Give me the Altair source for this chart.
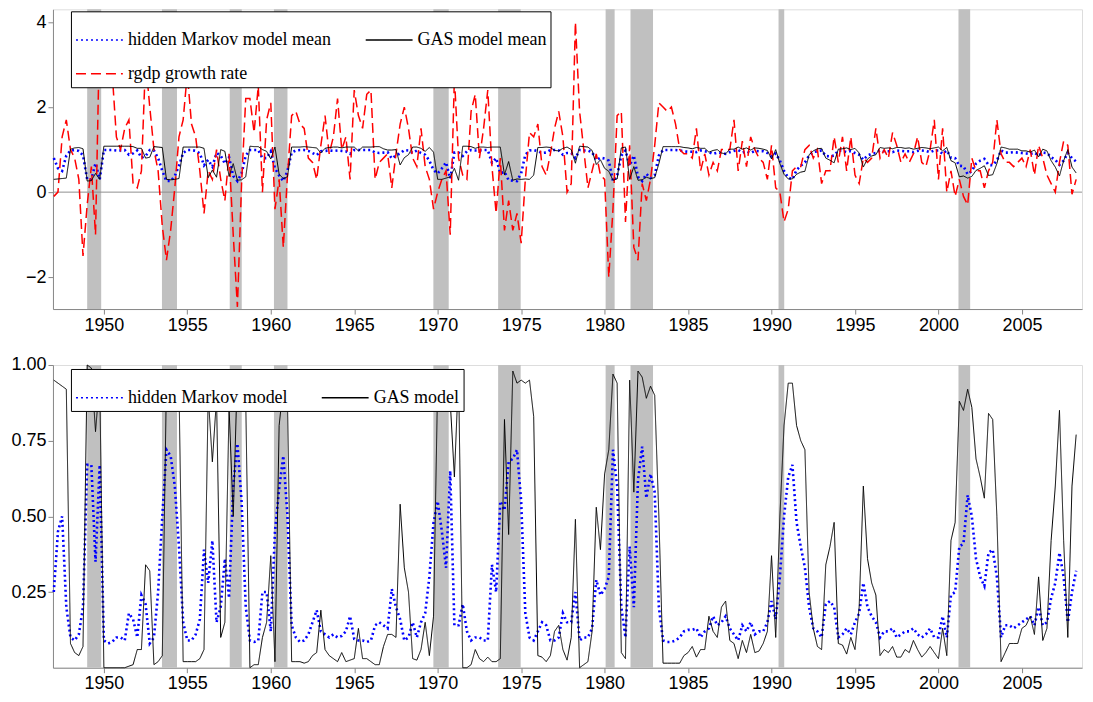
import numpy as np
import pandas as pd
import altair as alt

# quarterly, 1947Q1 .. 2008Q2
growth = [
    -0.1, 0.0, 1.3, 1.7,  1.0, 0.8, 0.3, -1.5,  -0.3, 0.6, -1.0, 3.9,  3.1, 4.0, 2.8, 1.3,
    1.0, 1.5, 1.7, 0.2,  0.1, 0.5, 3.1, 2.0,  1.0, 0.5, -0.8, -1.6,  -0.9, 0.1, 1.3, 1.7,
    2.8, 1.6, 1.3, 0.5,  -0.5, 0.5, 0.3, 1.0,  0.3, -0.2, 0.9, -1.0,  -2.7, 0.2, 2.2, 2.2,
    1.4, 2.5, 0.0, 1.7,  2.1, -0.4, 0.3, -1.3,  0.4, 1.8, 1.9, 1.6,  1.5, 0.8, 0.7, 0.3,
    1.1, 1.8, 0.9, 1.3,  2.2, 1.0, 1.3, 0.3,  2.4, 1.8, 1.5, 2.3,  2.4, 0.3, 0.7, 0.8,
    0.9, 0.1, 0.9, 1.6,  2.0, 1.5, 0.8, 0.6,  1.5, 0.6, 0.3, -0.4,  0.0, 0.3, 0.5, -1.0,
    2.7, 0.8, 0.4, 0.3,  1.9, 2.3, 0.8, 1.5,  2.4, 0.6, -0.5, 0.8,  -0.9, -0.2, -0.9, -0.5,
    -1.2, 0.3, 1.4, 1.3,  1.6, 0.6, 0.4, 0.9,  1.5, 1.9, 1.3, 0.0,  0.2, 4.0, 1.9, 1.0,
    0.1, 0.5, 0.9, 0.4,  0.3, -2.0, -0.4, 1.8,  1.9, -0.7, 1.1, -1.3,  -1.6, 0.2, -0.2, 0.3,
    1.1, 2.1, 2.0, 1.9,  2.0, 1.6, 1.0, 0.9,  0.9, 0.8, 1.5, 0.5,  0.9, 0.4, 0.7, 0.5,
    1.0, 1.0, 1.0, 1.7,  0.5, 1.2, 0.6, 1.3,  1.0, 0.8, 0.7, 0.3,  1.1, 0.1, 0.0, -0.7,
    -0.4, 0.5, 0.6, 0.6,  1.0, 1.1, 0.8, 1.0,  0.2, 0.5, 0.5, 1.3,  0.7, 1.3, 0.5, 1.3,
    0.4, 0.2, 0.8, 0.7,  0.8, 1.5, 0.8, 1.0,  0.8, 1.4, 1.1, 0.7,  0.9, 0.7, 0.9, 1.3,
    0.7, 0.6, 1.0, 1.7,  0.3, 1.5, 0.0, 0.5,  -0.1, 0.3, -0.1, -0.3,  0.8, 0.5, 0.5, 0.1,
    0.5, 0.7, 1.7, 0.9,  0.7, 0.7, 0.6, 0.7,  0.8, 0.6, 1.0, 0.4,  1.1, 0.8, 0.4, 0.2,
    0.0, 0.7, 1.2, 1.1,  -0.05, 0.3,
]

gas_mean = [
    .30, .31, .32, .33,  1.01, 1.04, 1.05, 1.02,  .26, .27, .44, .30,  1.08, 1.08, 1.08, 1.08,
    1.08, 1.08, 1.08, 1.07,  1.03, 1.03, .80, .82,  1.07, 1.06, 1.05, .30,  .29, .30, .32, 1.06,
    1.06, 1.06, 1.06, 1.06,  1.03, .34, .52, .35,  1.0, .96, .37, .67,  .28, .29, .36, 1.08,
    1.07, 1.07, 1.0, .96,  .78, 1.06, .42, .32,  .36, 1.06, 1.06, 1.06,  1.07, 1.06, 1.05, 1.04,
    .92, 1.03, 1.05, 1.06,  1.06, 1.04, 1.06, 1.06,  1.06, .97, 1.06, 1.06,  1.06, 1.07, 1.07, 1.02,
    .99, .99, 1.0, .64,  .81, .88, 1.06, 1.06,  1.03, .96, 1.05, .94,  .30, .30, .33, .36,
    .56, .28, 1.08, 1.08,  1.07, 1.03, 1.06, 1.06,  1.05, 1.06, 1.06, 1.06,  .41, .72, .28, .31,
    .30, .31, .30, .40,  1.05, 1.05, 1.06, 1.05,  .98, .97, 1.03, 1.06,  1.0, .68, 1.08, 1.07,
    1.06, .98, .65, .76,  .56, .49, .28, .31,  1.04, 1.06, .30, .60,  .28, .29, .35, .32,
    .34, .67, 1.07, 1.07,  1.07, 1.07, 1.07, 1.05,  1.04, 1.02, 1.05, 1.03,  1.03, .94, .98, 1.0,
    .92, .90, 1.01, 1.01,  1.06, 1.01, 1.04, .99,  1.04, 1.03, 1.01, .98,  .78, 1.0, .67, .42,
    .31, .31, .42, .47,  .49, .88, .97, 1.02,  1.03, .80, .75, .69,  1.01, 1.02, 1.04, 1.0,
    1.03, .92, .59, .78,  .85, .88, 1.05, 1.03,  1.04, 1.02, 1.05, 1.05,  1.03, 1.04, 1.01, 1.03,
    1.05, 1.04, 1.02, 1.04,  1.06, .97, 1.05, .74,  .69, .36, .38, .33,  .37, .51, .56, .62,
    .39, .41, .67, 1.06,  1.04, 1.01, 1.01, 1.01,  .97, .97, .94, .99,  .83, 1.01, .97, .74,
    .59, .38, .74, 1.0,  .59, .45,
]

hmm_mean = [
    .80, .56, .50, .86,  .98, .99, .97, .86,  .30, .30, .68, .30,  .99, .99, .99, .98,
    .98, .99, .88, .91,  .98, .81, .85, .99,  .98, .80, .50, .26,  .26, .38, .62, .92,
    .99, .99, .97, .91,  .63, .76, .60, .92,  .86, .67, .82, .38,  .26, .44, .86, .99,
    .99, .99, .80, .80,  .96, .56, .39, .26,  .50, .93, .98, .99,  .99, .97, .92, .87,
    .96, .97, .98, .97,  .98, .97, .96, .90,  .99, .99, .99, .99,  .99, .93, .92, .93,
    .94, .79, .86, .91,  .99, .98, .92, .98,  .92, .88, .74, .52,  .44, .56, .70, .32,
    .93, .93, .85, .96,  .99, .98, .98, .99,  .99, .69, .80, .44,  .48, .28, .27, .26,
    .44, .88, .98, .99,  .96, .92, .93, .99,  .99, .98, .88, .92,  .92, .80, .99, .98,
    .98, .94, .75, .81,  .79, .74, .26, .38,  .86, .98, .62, .86,  .36, .26, .43, .33,
    .40, .86, .99, .99,  .99, .99, .98, .96,  .95, .95, .94, .98,  .96, .94, .90, .93,
    .92, .90, .94, .97,  .99, .93, .96, .92,  .97, .96, .96, .92,  .84, .91, .74, .50,
    .34, .30, .52, .62,  .70, .86, .94, .96,  .98, .85, .84, .86,  .98, .97, .94, .97,
    .92, .88, .76, .86,  .90, .92, .98, .96,  .96, .94, .98, .97,  .96, .96, .94, .97,
    .98, .97, .94, .98,  .98, .90, .98, .81,  .80, .62, .61, .42,  .50, .67, .74, .78,
    .64, .63, .74, .98,  .93, .93, .94, .93,  .92, .91, .90, .93,  .86, .93, .92, .82,
    .76, .64, .74, .92,  .80, .72,
]

gas_prob = [
    .95, .94, .93, .92,  .08, .05, .04, .07,  1.0, .99, .78, .95,  0, 0, 0, 0,
    0, 0, .005, .01,  .06, .06, .34, .32,  .01, .02, .04, .95,  .96, .95, .93, .02,
    .02, .02, .02, .03,  .06, .9, .68, .89,  .1, .15, .86, .5,  .98, .96, .88, 0,
    .01, .01, .1, .15,  .37, .02, .8, .93,  .88, .02, .02, .02,  .015, .02, .04, .05,
    .19, .06, .04, .03,  .02, .05, .02, .025,  .03, .13, .03, .03,  .02, .01, .01, .07,
    .11, .11, .1, .54,  .33, .25, .03, .025,  .06, .15, .04, .17,  .95, .95, .92, .88,
    .63, .97, 0, 0,  .01, .06, .03, .02,  .035, .02, .02, .03,  .82, .44, .98, .94,
    .95, .94, .95, .83,  .04, .035, .02, .04,  .12, .14, .06, .025,  .1, .49, 0, .01,
    .02, .12, .53, .39,  .64, .72, .97, .94,  .05, .03, .95, .58,  .98, .96, .89, .93,
    .9, .5, .015, .015,  .015, .015, .015, .04,  .05, .07, .035, .06,  .06, .17, .12, .1,
    .2, .22, .09, .08,  .03, .09, .05, .11,  .05, .055, .08, .12,  .37, .1, .5, .8,
    .94, .94, .8, .75,  .72, .25, .13, .07,  .06, .34, .4, .48,  .08, .075, .045, .1,
    .06, .2, .6, .36,  .28, .24, .04, .06,  .05, .07, .035, .035,  .06, .05, .09, .06,
    .035, .05, .07, .05,  .03, .13, .04, .42,  .48, .88, .85, .92,  .86, .69, .63, .56,
    .84, .82, .5, .02,  .05, .08, .08, .08,  .13, .14, .17, .11,  .3, .09, .13, .42,
    .6, .85, .42, .1,  .6, .77,
]

hmm_prob = [
    .25, .45, .5, .2,  .1, .09, .11, .2,  .67, .67, .35, .67,  .09, .08, .085, .1,
    .1, .09, .18, .16,  .1, .24, .21, .08,  .1, .25, .5, .72,  .7, .6, .4, .15,
    .09, .09, .11, .16,  .39, .28, .42, .15,  .2, .36, .23, .6,  .74, .55, .2, .09,
    .085, .09, .25, .25,  .12, .45, .59, .7,  .5, .14, .1, .085,  .09, .11, .15, .19,
    .12, .11, .1, .11,  .1, .105, .12, .17,  .095, .09, .09, .085,  .09, .14, .15, .14,
    .13, .26, .2, .16,  .09, .1, .15, .1,  .15, .18, .3, .48,  .55, .45, .33, .65,
    .14, .14, .21, .12,  .09, .1, .1, .09,  .09, .34, .25, .55,  .52, .68, .69, .72,
    .55, .18, .1, .09,  .12, .15, .14, .09,  .09, .1, .18, .15,  .15, .25, .09, .1,
    .1, .13, .29, .24,  .26, .3, .72, .6,  .2, .1, .4, .2,  .62, .73, .56, .64,
    .58, .2, .09, .085,  .085, .09, .1, .12,  .125, .125, .13, .1,  .12, .13, .17, .14,
    .15, .17, .13, .11,  .09, .14, .12, .15,  .11, .12, .12, .15,  .22, .16, .3, .5,
    .63, .67, .48, .4,  .33, .2, .13, .12,  .1, .21, .22, .2,  .1, .11, .13, .11,
    .15, .18, .28, .2,  .17, .15, .1, .12,  .12, .13, .1, .11,  .12, .12, .13, .11,
    .1, .11, .13, .1,  .1, .17, .1, .24,  .25, .4, .41, .57,  .5, .36, .3, .27,
    .38, .39, .3, .1,  .14, .14, .13, .14,  .15, .16, .17, .14,  .2, .14, .15, .23,
    .28, .38, .3, .15,  .25, .32,
]

rec_start = [1949.0, 1953.48, 1957.54, 1960.19, 1969.74, 1973.62, 1980.06, 1981.55, 1990.42, 2001.2]
rec_end = [1949.84, 1954.38, 1958.26, 1961.0, 1970.66, 1974.97, 1980.6, 1982.9, 1990.76, 2001.9]

n = len(growth)
t = 1947.0 + 0.25 * np.arange(n)

# legend order is filled column by column, so this gives HMM | GAS on row one
names = ["hidden Markov model mean", "rgdp growth rate", "GAS model mean"]
top = pd.concat([
    pd.DataFrame({"t": t, "v": hmm_mean, "series": names[0]}),
    pd.DataFrame({"t": t, "v": growth, "series": names[1]}),
    pd.DataFrame({"t": t, "v": gas_mean, "series": names[2]}),
])
names2 = ["hidden Markov model", "GAS model"]
bot = pd.concat([
    pd.DataFrame({"t": t, "v": hmm_prob, "model": names2[0]}),
    pd.DataFrame({"t": t, "v": gas_prob, "model": names2[1]}),
])
rec = pd.DataFrame({"s": rec_start, "e": rec_end})

font = "Liberation Serif"
W = 1030
H1, H2 = 300, 303
xdom = [1946.95, 2008.6]
xaxis = alt.Axis(values=list(range(1950, 2010, 5)), format="d", title=None, grid=False,
                 labelFontSize=18, labelFlush=False)
xsc = alt.Scale(domain=xdom, nice=False, zero=False)


def bands(h):
    return alt.Chart(rec).mark_rect(color="#c0c0c0").encode(
        x=alt.X("s:Q", scale=xsc, axis=xaxis), x2="e:Q",
        y=alt.value(0), y2=alt.value(h))


def legend(y):
    return alt.Legend(title=None, orient="none", legendX=18, legendY=y, columns=2,
                      fillColor="white", strokeColor="black", padding=4, labelFontSize=18,
                      labelFont=font, symbolType="stroke", symbolSize=2200, symbolStrokeWidth=1.6,
                      columnPadding=30, rowPadding=0, labelLimit=400)


def lines(df, field, dom, colors, dashes, widths, yenc, leg):
    layers = []
    for name, w in zip(dom, widths):
        layers.append(
            alt.Chart(df).transform_filter(alt.datum[field] == name).mark_line(strokeWidth=w).encode(
                x=alt.X("t:Q", scale=xsc, axis=xaxis),
                y=yenc,
                color=alt.Color(f"{field}:N", scale=alt.Scale(domain=dom, range=colors), legend=leg),
                strokeDash=alt.StrokeDash(f"{field}:N", scale=alt.Scale(domain=dom, range=dashes), legend=leg),
                order=alt.Order("t:Q"),
            )
        )
    return layers


ysc = alt.Scale(domain=[-2.75, 4.3], nice=False, zero=False)
y1 = alt.Y("v:Q", scale=ysc, title=None,
           axis=alt.Axis(values=[-2, 0, 2, 4], labelFontSize=18, grid=False,
                         labelExpr="replace(datum.label, '-', '−')"))
zero = alt.Chart(pd.DataFrame({"y": [0]})).mark_rule(color="#909090", strokeWidth=1).encode(
    y=alt.Y("y:Q", scale=ysc))
l1 = lines(top, "series", names, ["#0000ff", "#ff0000", "black"], [[2, 3], [10, 5], [1, 0]],
           [2.6, 1.5, 1], y1, legend(2))
chart_top = alt.layer(bands(H1), zero, *l1).properties(width=W, height=H1)

ysc2 = alt.Scale(domain=[0, 1.0], nice=False)
y2 = alt.Y("v:Q", scale=ysc2, title=None,
           axis=alt.Axis(values=[0.25, 0.5, 0.75, 1.0], format=".2f", labelFontSize=18, grid=False))
l2 = lines(bot, "model", names2, ["#0000ff", "black"], [[2, 3], [1, 0]], [2.6, 1], y2, legend(4))
chart_bot = alt.layer(bands(H2), *l2).properties(width=W, height=H2)

chart = alt.vconcat(chart_top, chart_bot, spacing=20).resolve_scale(
    color="independent", strokeDash="independent"
).configure_view(stroke=None).configure_axis(
    labelFont=font, domainColor="black", tickColor="black", labelColor="black", tickSize=6
).configure(padding={"left": 2, "top": 0, "right": 2, "bottom": 0}, background="white")

chart.save("out.html", embed_options={"renderer": "svg", "actions": False})
